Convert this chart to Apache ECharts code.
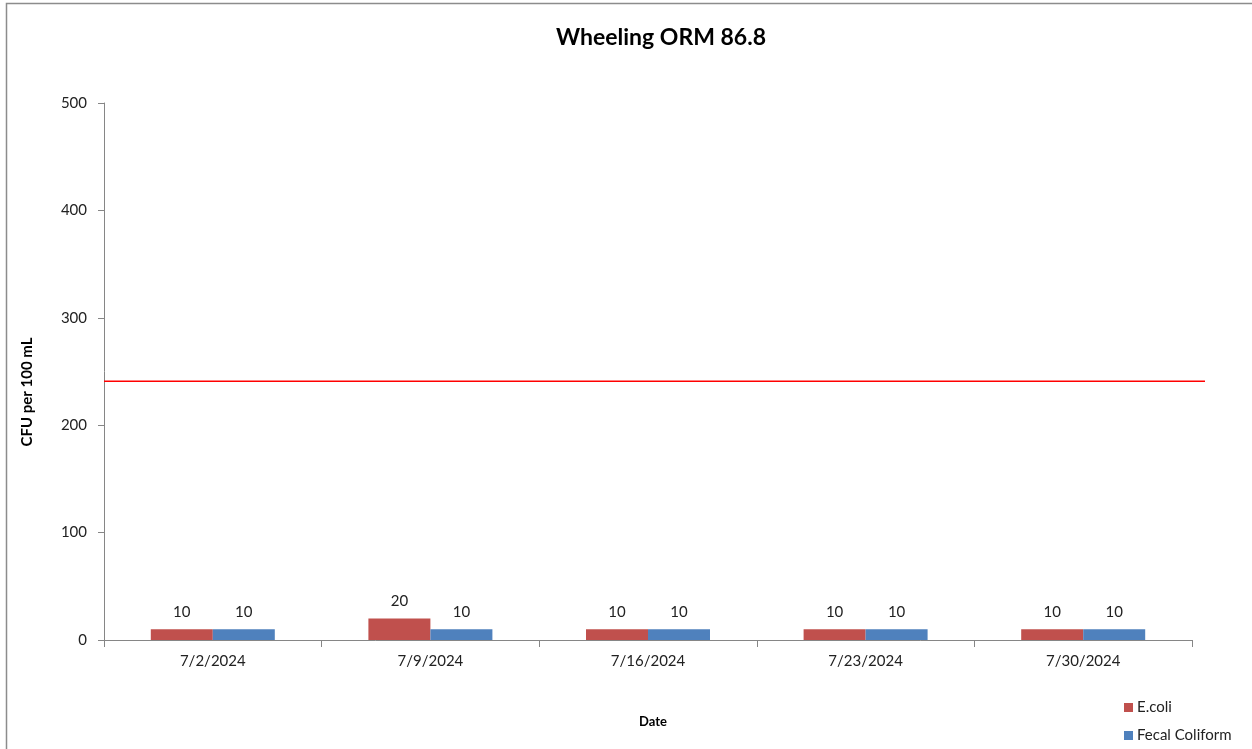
<!DOCTYPE html>
<html>
<head>
<meta charset="utf-8">
<script src="https://cdn.jsdelivr.net/npm/echarts@6/dist/echarts.min.js"></script>
<style>html,body{margin:0;padding:0;background:#fff}#c{width:1252px;height:749px}</style>
</head>
<body>
<div id="c"></div>
<script>
const categories = ['7/2/2024', '7/9/2024', '7/16/2024', '7/23/2024', '7/30/2024'];
const ecoli = [10, 20, 10, 10, 10];
const fecalColiform = [10, 10, 10, 10, 10];
const thresholdValue = 241;
const yTicks = [0, 100, 200, 300, 400, 500];

const FONT = 'Lato, "Open Sans", sans-serif';
const chart = echarts.init(document.getElementById('c'));
const labelStyle = {show: true, position: 'top', distance: 10, color: '#222', fontSize: 15, fontFamily: FONT};

chart.setOption({
  animation: false,
  backgroundColor: '#fff',
  title: {
    text: 'Wheeling ORM 86.8', left: 656, top: 21, textAlign: 'center',
    textStyle: {fontFamily: FONT, fontWeight: 'bold', fontSize: 23, color: '#000'}
  },
  graphic: [
    {type: 'rect', shape: {x: 6.5, y: 3.5, width: 1300, height: 800}, style: {fill: 'none', stroke: '#8c8c8c', lineWidth: 1.5}, z: -1},
    {type: 'text', x: 27, y: 392, rotation: Math.PI / 2, style: {text: 'CFU per 100 mL', fontFamily: FONT, fontWeight: 'bold', fontSize: 15, fill: '#000', textAlign: 'center', textVerticalAlign: 'middle'}},
    {type: 'text', x: 653, y: 722, style: {text: 'Date', fontFamily: FONT, fontWeight: 'bold', fontSize: 13, fill: '#000', textAlign: 'center', textVerticalAlign: 'middle'}}
  ],
  legend: {
    orient: 'vertical', left: 1119, top: 695, itemGap: 13, itemWidth: 9, itemHeight: 9,
    icon: 'rect',
    textStyle: {fontFamily: FONT, fontSize: 15, color: '#222', padding: [0, 0, 0, -1]},
    data: ['E.coli', 'Fecal Coliform']
  },
  grid: [
    {left: 104, right: 60, top: 103, bottom: 109},
    {left: 104, right: 47, top: 103, bottom: 109}
  ],
  xAxis: [
    {
      type: 'category', data: categories, gridIndex: 0,
      axisLine: {lineStyle: {color: '#868686', width: 1}},
      axisTick: {show: true, length: 7, lineStyle: {color: '#868686'}},
      axisLabel: {color: '#222', fontSize: 15, fontFamily: FONT, margin: 14}
    },
    {type: 'value', gridIndex: 1, min: 0, max: 1, show: false}
  ],
  yAxis: [
    {
      type: 'value', gridIndex: 0, min: 0, max: 500, interval: 100,
      axisLine: {show: true, lineStyle: {color: '#868686', width: 1}},
      axisTick: {show: true, length: 6, lineStyle: {color: '#868686'}},
      axisLabel: {color: '#222', fontSize: 15, fontFamily: FONT, margin: 17,
        formatter: v => yTicks.includes(v) ? String(v) : ''},
      splitLine: {show: false}
    },
    {type: 'value', gridIndex: 1, min: 0, max: 500, show: false}
  ],
  series: [
    {
      name: 'E.coli', type: 'bar', data: ecoli, barWidth: 62, barGap: '0%',
      itemStyle: {color: '#C0504D'}, label: labelStyle
    },
    {
      name: 'Fecal Coliform', type: 'bar', data: fecalColiform, barWidth: 62, barGap: '0%',
      itemStyle: {color: '#4F81BD'}, label: labelStyle
    },
    {
      name: 'Threshold', type: 'line', xAxisIndex: 1, yAxisIndex: 1,
      data: [[0, thresholdValue], [1, thresholdValue]],
      symbol: 'none', lineStyle: {color: '#FF0000', width: 1.5}
    }
  ]
});
</script>
</body>
</html>
